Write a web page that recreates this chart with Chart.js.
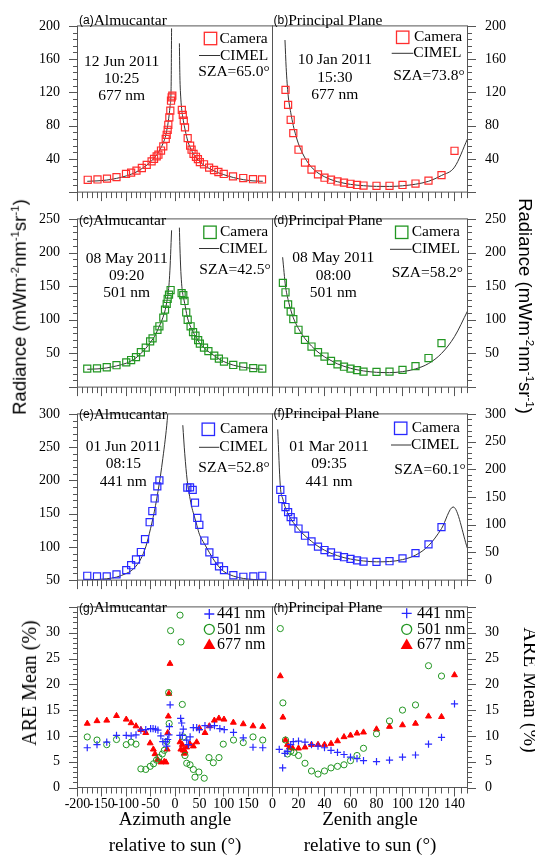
<!DOCTYPE html>
<html>
<head>
<meta charset="utf-8">
<script src="https://cdn.jsdelivr.net/npm/chart.js@4.4.1/dist/chart.umd.min.js"></script>
<style>
  body { margin: 0; background: #fff; }
  #fig { position: relative; width: 535px; height: 860px; overflow: hidden; font-family: 'Liberation Serif', serif; }
  #fig canvas { position: absolute; }
  .rot { position: absolute; z-index: 2; white-space: nowrap; line-height: 1; transform: translate(-50%, -50%) rotate(-90deg); }
  .rot.cw { transform: translate(-50%, -50%) rotate(90deg); }
  .rad { font-family: 'Liberation Sans', sans-serif; font-size: 18.5px; }
  .rad sup { font-size: 0.62em; vertical-align: 0.6em; line-height: 0; }
  .are { font-size: 20px; }
</style>
</head>
<body>
<div id="fig">
  <div class="rot rad" style="left:20px; top:307px">Radiance (mWm<sup>-2</sup>nm<sup>-1</sup>sr<sup>-1</sup>)</div>
  <div class="rot rad cw" style="left:525px; top:306px">Radiance (mWm<sup>-2</sup>nm<sup>-1</sup>sr<sup>-1</sup>)</div>
  <div class="rot are" style="left:29px; top:683px">ARE Mean (%)</div>
  <div class="rot are cw" style="left:531px; top:690px">ARE Mean (%)</div>
</div>
<script>
// ---- tick labels ----
const xTicksAlm = [-200, -150, -100, -50, 0, 50, 100, 150];
const xTicksPP = [0, 20, 40, 60, 80, 100, 120, 140];
const yTicksTop = [40, 80, 120, 160, 200];
const yTicksMid = [50, 100, 150, 200, 250];
const yTicksAlmLow = [50, 100, 150, 200, 250, 300];
const yTicksPPLow = [0, 50, 100, 150, 200, 250, 300];
const yTicksAre = [0, 5, 10, 15, 20, 25, 30];

// ---- (a) almucantar 677 nm ----
const aCamX = [-179, -159, -139.5, -120, -100.5, -90, -79, -68, -58, -48, -43, -37.6, -34, -28.7, -24, -19, -17, -15, -13.7, -11.6, -9.6, -8.2, -6.8, -5.5,
  14, 16, 18, 20.5, 26, 31, 34, 38, 43, 47, 51, 59.5, 70, 80, 89, 100, 119, 140, 160, 178.5];
const aCamY = [14.8, 15.2, 16.2, 18, 21.8, 23.5, 25.9, 29, 32.8, 37, 40, 43, 45, 50, 55, 64, 69, 75, 81, 90, 98, 110, 114, 116,
  99, 93, 86, 78, 65, 56, 51, 46, 42.5, 39.7, 36, 33.5, 29.4, 26.6, 24.2, 21.8, 19, 16.9, 15.5, 15.2];
const aCimLX = [-180, -160, -140, -120, -100, -90, -80, -70, -60, -50, -45, -40, -35, -30, -25, -20, -18, -16, -14, -12, -10, -8, -7];
const aCimLY = [13, 13.5, 14.5, 16.5, 19.5, 21.5, 24, 27.5, 31.5, 36.5, 39.5, 43, 47, 52, 58, 66, 71, 77, 84, 93, 104, 125, 197];
const aCimRX = [9, 10, 12, 14, 16, 18, 20, 25, 30, 35, 40, 45, 50, 60, 70, 80, 90, 100, 120, 140, 160, 180];
const aCimRY = [179, 140, 112, 98, 90, 83, 77, 64, 55, 49, 44, 40, 37, 32, 28.5, 25.5, 23, 21, 17.5, 15, 13.5, 13];

// ---- (b) principal plane 677 nm ----
const bCamX = [10, 12, 14, 16, 20, 25, 30, 35, 40, 45, 50, 55, 60, 65, 70, 80, 90, 100, 110, 120, 130, 140];
const bCamY = [123, 105, 87, 71, 51, 35.6, 27, 21.4, 17.3, 14.9, 12.8, 11.4, 10, 8.6, 7.9, 7.6, 7.6, 8.6, 10.3, 13.8, 20.4, 49.7];
const bCimX = [9.6, 10.5, 12, 14, 16, 18, 20, 25, 30, 35, 40, 45, 50, 60, 70, 80, 90, 100, 110, 120, 130, 140, 150];
const bCimY = [183, 150, 117, 96, 80, 68, 58, 41, 30, 23, 18.5, 15, 12.5, 9.3, 7.7, 6.9, 6.8, 7.6, 9.5, 13, 20, 30, 64];

// ---- (c) almucantar 501 nm ----
const cCamX = [-180, -160, -140, -120, -100, -90, -80, -70, -60, -51, -46, -36, -32, -24, -20.5, -17, -15, -12.3, -9,
  13.6, 17, 19.5, 23, 26, 32, 37, 42, 47.5, 51, 59.5, 68.5, 80.5, 90, 100.5, 119.5, 140, 160.5, 179];
const cCamY = [27.4, 27.8, 29.5, 32.5, 36.8, 40.2, 44.5, 51.8, 58.6, 68, 72.4, 85.2, 90.4, 103.2, 115.2, 123.8, 131, 137.4, 144.3,
  139.6, 136.6, 128, 110.9, 100.1, 90.4, 81.7, 76.6, 69.8, 64.6, 58.6, 53.5, 46.7, 42.3, 38, 32.9, 30.7, 28.2, 27.4];
const cCimLX = [-180, -160, -140, -120, -100, -90, -80, -70, -60, -50, -45, -40, -35, -30, -25, -20, -18, -16, -14, -12, -10, -8, -7];
const cCimLY = [26.5, 27, 28.5, 31.5, 35.5, 39, 43.5, 50, 57.5, 67, 72, 78, 86, 94, 103, 115, 122, 130, 140, 155, 180, 215, 233];
const cCimRX = [9, 10, 12, 14, 16, 18, 20, 25, 30, 35, 40, 45, 50, 60, 70, 80, 90, 100, 120, 140, 160, 180];
const cCimRY = [237, 210, 172, 150, 138, 131, 124, 105, 93, 85, 78, 72, 66, 58, 52, 47, 42, 38, 32.5, 29.5, 27.5, 26.5];

// ---- (d) principal plane 501 nm ----
const dCamX = [8, 10, 12, 14, 16, 20, 25, 30, 35, 40, 45, 50, 55, 60, 65, 70, 80, 90, 100, 110, 120, 130];
const dCamY = [155, 140.9, 122.9, 112.2, 101, 85.2, 70.2, 60.3, 51.8, 45.4, 38.9, 33.8, 30.3, 27.4, 25.2, 23, 22.6, 23, 25.6, 31.2, 43.2, 65.4];
const dCimX = [7.8, 10, 12, 14, 16, 20, 25, 30, 35, 40, 45, 50, 60, 70, 80, 90, 100, 110, 120, 130, 140, 150];
const dCimY = [193, 150, 130, 115, 103, 87, 72, 61, 52, 45, 39.5, 34.5, 28, 24, 22, 21.5, 23, 27, 35, 50, 75, 113];

// ---- (e) almucantar 441 nm ----
const eCamX = [-180, -160, -140, -120, -100, -90, -80, -70, -61.5, -52, -46.5, -41.8, -36.3, -32,
  25.3, 30.8, 36.3, 41, 45.8, 49.9, 60.2, 70.5, 80.8, 90.3, 100.5, 119.7, 140.2, 160.7, 179];
const eCamY = [56.5, 55.6, 55.6, 58.6, 65.1, 72.4, 81, 92.2, 111.6, 137.1, 153.9, 172.8, 191, 200,
  189.2, 189.5, 185.8, 166.4, 143.5, 133.2, 109.5, 91.8, 78.9, 70.7, 65.1, 57.3, 55, 55.6, 56.5];
const eCimLX = [-180, -160, -140, -120, -100, -90, -80, -70, -60, -50, -45, -40, -35, -30, -25, -20, -16, -13];
const eCimLY = [50.5, 51, 52, 54.5, 60, 64, 71, 82, 100, 128, 144, 162, 183, 206, 233, 262, 290, 320];
const eCimRX = [16, 20, 25, 30, 35, 40, 45, 50, 60, 70, 80, 90, 100, 120, 140, 160, 180];
const eCimRY = [283, 240, 200, 176, 158, 145, 132, 119, 105, 92, 80, 70, 63, 56, 52.5, 51, 50.5];

// ---- (f) principal plane 441 nm ----
const fCamX = [6, 7.5, 10, 12, 14, 16, 20, 25, 30, 35, 40, 45, 50, 55, 60, 65, 70, 80, 90, 100, 110, 120, 130];
const fCamY = [162.9, 146.3, 131.9, 122.6, 113.7, 106, 93.1, 80.1, 69.8, 60.5, 54.3, 50.1, 43.9, 41.3, 38.2, 35.7, 33.5, 33, 34.1, 39.3, 48.6, 64.6, 95.6];
const fCimX = [4, 6, 8, 10, 12, 14, 16, 20, 25, 30, 35, 40, 45, 50, 55, 60, 70, 80, 90, 100, 110, 120, 130, 139, 150];
const fCimY = [272, 170, 146, 130, 120, 111, 104, 92, 80, 70, 61, 54, 48.5, 44, 40.5, 38, 34.5, 33, 33.5, 37, 45, 62, 93, 132, 57];

// ---- (g) ARE almucantar ----
const gX441 = [-180, -160, -140, -120, -100, -90, -80, -70, -60, -50, -45, -40, -35, -29, -25, -19, -17, -15, -12.5, -11.5, -10,
  10, 11.6, 13.7, 15, 17, 24, 27.4, 31, 37.6, 44.5, 50, 61.5, 72, 81, 92, 101, 120, 140, 160, 180];
const gY441 = [7.7, 8.3, 8.8, 10.1, 10.1, 10.0, 10.2, 11.1, 11.2, 11.4, 11.4, 11.3, 11.1, 10, 8.9, 8.9, 8, 9.3, 10.2, 11.8, 16,
  10.1, 13.4, 12.5, 10.1, 11.3, 9.2, 8.3, 9.8, 11.6, 11.6, 11.2, 12, 11.7, 12, 11.4, 11.2, 10.7, 9.6, 7.8, 7.7];
const gX501 = [-180, -160, -140, -120, -100, -90, -80, -70, -60, -51, -44, -38, -33, -26, -22, -17, -13, -12, -9,
  10.3, 12.3, 15, 17, 20.5, 24, 30.8, 37.6, 41, 49, 60, 69.7, 78.6, 90.3, 99, 120, 140, 160, 180];
const gY501 = [9.8, 9.2, 8.3, 9.3, 8.3, 8.8, 8.4, 3.6, 3.5, 4.1, 4.6, 5.3, 5.8, 6.5, 7.2, 8.9, 18.4, 12.4, 30.4,
  33.4, 28.2, 16.1, 9.8, 6.2, 4.7, 4.4, 3.5, 2.0, 3, 1.8, 5.8, 4.8, 5.8, 8.4, 9.2, 8.7, 9.8, 9.2];
const gX677 = [-180, -160, -140, -120, -100, -90, -80, -70, -60, -51, -44.4, -41, -35.6, -28.7, -22, -18.5, -16, -15, -13.7, -12.5, -10.3,
  10.3, 12, 15, 17, 19, 20.5, 24, 30.8, 37.6, 44.5, 50, 61.5, 70.4, 80.7, 90, 100.5, 119.7, 140, 160, 180];
const gY677 = [12.4, 12.9, 13, 13.9, 13.2, 12.5, 11.9, 11.2, 10.6, 8.6, 7.4, 6.5, 5.4, 4.9, 5.0, 4.9, 7.4, 10.6, 13.8, 18.2, 24,
  8.8, 7.4, 8.3, 7.2, 6.6, 7, 7.8, 8.4, 8, 8.8, 11.5, 10.6, 11.9, 13, 13.4, 13.2, 12.6, 12.3, 11.9, 11.8];

// ---- (h) ARE principal plane ----
const hX441 = [5.2, 7.8, 9.6, 11.4, 14, 16, 20, 25, 30, 35, 40, 45, 50, 55, 60, 65, 70, 80, 90, 100, 110, 120, 130, 140];
const hY441 = [7.4, 3.8, 6.6, 7, 8.3, 8.9, 9, 8.8, 8.3, 8, 7.7, 7.2, 6.8, 6.4, 5.9, 5.6, 5.2, 5.0, 5.3, 5.9, 6.3, 8.4, 9.7, 16.2];
const hX501 = [6, 8, 10, 11.5, 14, 16.5, 20, 25, 30, 35, 40, 45, 50, 55, 60, 65, 70, 80, 90, 100, 110, 120, 130];
const hY501 = [30.8, 16.4, 9.2, 6.5, 7, 6.8, 6.2, 4.7, 3.2, 2.6, 3.2, 3.8, 4.1, 4.4, 5.2, 6.2, 7.6, 10.4, 12.9, 15, 16, 23.6, 21.6];
const hX677 = [6, 8, 10, 11.5, 13, 15.5, 20, 25, 30, 35, 40, 45, 50, 55, 60, 65, 70, 80, 90, 100, 110, 120, 130, 140];
const hY677 = [21.6, 13.6, 9.2, 8.3, 7.8, 7.6, 7.6, 7.8, 8.3, 8.3, 8.3, 8.5, 9, 9.8, 10.1, 10.5, 10.7, 11.3, 11.8, 12.1, 12.4, 13.8, 13.7, 21.8];

// ---- styling / layout ----
Chart.defaults.font.family = "'Liberation Serif', 'Times New Roman', serif";
Chart.defaults.color = '#000';

const RED = 'rgb(255,45,45)', GREEN = 'rgb(34,150,34)', BLUE = 'rgb(40,40,255)', TRI = 'rgb(255,0,0)', LINE = '#333';
const FRAME = '#555';
const XL = 77.5, XM = 272.5, XR = 467.5;
const ROWS = [[12.5, 205.5], [205.5, 400.5], [400.5, 593.5], [593.5, 787.5]];
const TXT = "15.5px 'Liberation Serif'";

const pts = (xs, ys) => xs.map((v, i) => ({x: v, y: ys[i]}));

function camSet(xs, ys, color) {
  return {data: pts(xs, ys), pointStyle: 'rect', pointRadius: 5, pointBorderColor: color,
    pointBackgroundColor: 'rgba(0,0,0,0)', pointBorderWidth: 1.2, showLine: false};
}
function cimSet(xs, ys) {
  return {data: pts(xs, ys), showLine: true, pointRadius: 0, borderColor: LINE, borderWidth: 1,
    cubicInterpolationMode: 'monotone', clip: 0};
}
function are441(xs, ys) {
  return {data: pts(xs, ys), pointStyle: 'cross', pointRadius: 3.6, pointBorderColor: BLUE, pointBorderWidth: 1.2};
}
function are501(xs, ys) {
  return {data: pts(xs, ys), pointStyle: 'circle', pointRadius: 3.1, pointBorderColor: GREEN,
    pointBackgroundColor: 'rgba(0,0,0,0)', pointBorderWidth: 1};
}
function are677(xs, ys) {
  return {data: pts(xs, ys), pointStyle: 'triangle', pointRadius: 3.4, pointBorderColor: TRI,
    pointBackgroundColor: TRI, pointBorderWidth: 1};
}

function marker(ctx, kind, x, y, r, color) {
  ctx.save();
  ctx.strokeStyle = color; ctx.fillStyle = color; ctx.lineWidth = 1.3;
  ctx.beginPath();
  if (kind === 'cross') {
    ctx.moveTo(x - r, y); ctx.lineTo(x + r, y); ctx.moveTo(x, y - r); ctx.lineTo(x, y + r); ctx.stroke();
  } else if (kind === 'circle') {
    ctx.arc(x, y, r, 0, Math.PI * 2); ctx.stroke();
  } else if (kind === 'triangle') {
    ctx.moveTo(x, y - r); ctx.lineTo(x + 0.866 * r, y + 0.5 * r); ctx.lineTo(x - 0.866 * r, y + 0.5 * r);
    ctx.closePath(); ctx.fill();
  } else {
    ctx.strokeRect(x - r, y - r, 2 * r, 2 * r);
  }
  ctx.restore();
}

function tickRun(min, max, minor, major, fn) {
  const n = Math.round((max - min) / minor);
  for (let i = 0; i <= n; i++) {
    const v = min + i * minor;
    const q = v / major;
    fn(v, Math.abs(q - Math.round(q)) < 1e-6);
  }
}

// frame, tick marks and in-panel texts (text positions are page coordinates)
function decor(p) {
  return {
    id: 'decor',
    afterDatasetsDraw(chart) {
      const {ctx, chartArea: a, scales: {x, y}} = chart;
      ctx.save();
      ctx.strokeStyle = FRAME; ctx.lineWidth = 1;
      ctx.strokeRect(a.left, a.top, a.right - a.left, a.bottom - a.top);

      const ex = p.col === 0 ? a.left : a.right, dir = p.col === 0 ? -1 : 1;
      ctx.beginPath();
      tickRun(p.yMin, p.yMax, p.yMinor, p.yMajor, (v, big) => {
        const py = Math.round(y.getPixelForValue(v)) + 0.5;
        ctx.moveTo(ex, py); ctx.lineTo(ex + dir * (big ? 8.5 : 4.5), py);
      });
      tickRun(p.xMin, p.xMax, p.xMinor, p.xMajor, (v, big) => {
        const px = Math.round(x.getPixelForValue(v) - 0.5) + 0.5;
        ctx.moveTo(px, a.bottom); ctx.lineTo(px, a.bottom + (big ? 9 : 6));
      });
      ctx.stroke();

      ctx.translate(-p.cx, -p.cy);
      // panel title
      ctx.fillStyle = '#000'; ctx.textBaseline = 'middle'; ctx.textAlign = 'left';
      ctx.font = "12px 'Liberation Sans'";
      ctx.fillText('(' + p.tag + ')', p.t[0], p.t[1]);
      const w = ctx.measureText('(' + p.tag + ')').width;
      ctx.font = TXT;
      ctx.fillText(p.name, p.t[0] + w, p.t[1]);

      if (p.kind === 'rad') {
        const L = p.leg;
        ctx.textAlign = 'center';
        p.dateLines.forEach((s, i) => ctx.fillText(s, L.dx, L.dy[i]));
        ctx.textAlign = 'left';
        marker(ctx, 'rect', L.sq[0], L.sq[1], 6.2, p.color);
        ctx.fillText('Camera', L.camX, L.sq[1]);
        ctx.strokeStyle = LINE; ctx.lineWidth = 1;
        ctx.beginPath(); ctx.moveTo(L.ln[0], L.cimY); ctx.lineTo(L.ln[1], L.cimY); ctx.stroke();
        ctx.fillText('CIMEL', L.ln[1], L.cimY);
        ctx.fillText(p.sza, L.sza[0], L.sza[1]);
      } else {
        const L = p.leg;
        ctx.font = "16px 'Liberation Serif'";
        marker(ctx, 'cross', L.mx, L.my[0], 5, BLUE);
        marker(ctx, 'circle', L.mx, L.my[1], 5, GREEN);
        marker(ctx, 'triangle', L.mx, L.my[2] + 1, 7, TRI);
        ['441 nm', '501 nm', '677 nm'].forEach((s, i) => ctx.fillText(s, L.tx, L.my[i]));
      }
      ctx.restore();
    }
  };
}

function panel(p) {
  const [top, bottom] = ROWS[p.row];
  const last = p.row === 3, isLeft = p.col === 0;
  const cTop = Math.floor(top - 12);
  const cBot = last ? 860 : Math.ceil(bottom + 12);
  const cLeft = isLeft ? 0 : 255, cW = isLeft ? 290 : 280;
  p.cx = cLeft; p.cy = cTop;
  const cv = document.createElement('canvas');
  cv.width = cW; cv.height = cBot - cTop;
  cv.style.left = cLeft + 'px'; cv.style.top = cTop + 'px';
  document.getElementById('fig').appendChild(cv);

  const xScale = {
    type: 'linear', min: p.xMin, max: p.xMax, display: last,
    afterBuildTicks: s => { s.ticks = p.xTicks.map(v => ({value: v})); },
    grid: {display: false, drawTicks: false}, border: {display: false},
    ticks: {padding: 8, maxRotation: 0, autoSkip: false, font: {size: 14}},
    title: {display: !!p.xTitle, text: p.xTitle, font: {size: 19, lineHeight: 1.42}, padding: {top: 0, bottom: 0}}
  };
  if (last) xScale.afterFit = s => { s.height = 860 - bottom; };

  new Chart(cv, {
    type: 'scatter',
    data: {datasets: p.datasets},
    options: {
      responsive: false, animation: false, events: [],
      layout: {padding: {
        left: isLeft ? 0 : XM - cLeft,
        right: isLeft ? cLeft + cW - XM : 0,
        top: top - cTop,
        bottom: last ? 0 : cBot - bottom
      }},
      plugins: {legend: {display: false}, tooltip: {enabled: false}},
      scales: {
        x: xScale,
        y: {
          type: 'linear', position: isLeft ? 'left' : 'right', min: p.yMin, max: p.yMax,
          afterBuildTicks: s => { s.ticks = p.yTicks.map(v => ({value: v})); },
          afterFit: s => { s.width = isLeft ? XL : 535 - XR; },
          grid: {display: false, drawTicks: false}, border: {display: false},
          ticks: {padding: 17.5, font: {size: 14}}
        }
      }
    },
    plugins: [decor(p)]
  });
}

const ALM = {xMin: -200, xMax: 200, xTicks: xTicksAlm, xMajor: 50, xMinor: 10, name: 'Almucantar'};
const PP = {xMin: 0, xMax: 150, xTicks: xTicksPP, xMajor: 20, xMinor: 5, name: 'Principal Plane'};

panel(Object.assign({}, ALM, {
  tag: 'a', row: 0, col: 0, kind: 'rad', color: RED,
  yMin: 0, yMax: 200, yTicks: yTicksTop, yMajor: 40, yMinor: 8,
  datasets: [camSet(aCamX, aCamY, RED), cimSet(aCimLX, aCimLY), cimSet(aCimRX, aCimRY)],
  t: [79, 20.7], dateLines: ['12 Jun 2011', '10:25', '677 nm'], sza: 'SZA=65.0°',
  leg: {dx: 121.7, dy: [61.7, 79, 96.3], sq: [210.5, 38.5], camX: 219.5, cimY: 55.5, ln: [199, 220], sza: [198.3, 72]}
}));
panel(Object.assign({}, PP, {
  tag: 'b', row: 0, col: 1, kind: 'rad', color: RED,
  yMin: 0, yMax: 200, yTicks: yTicksTop, yMajor: 40, yMinor: 8,
  datasets: [camSet(bCamX, bCamY, RED), cimSet(bCimX, bCimY)],
  t: [273.5, 21], dateLines: ['10 Jan 2011', '15:30', '677 nm'], sza: 'SZA=73.8°',
  leg: {dx: 334.8, dy: [60, 77.7, 95], sq: [402.7, 37.3], camX: 414, cimY: 53.3, ln: [391.7, 413.3], sza: [393.3, 75.7]}
}));
panel(Object.assign({}, ALM, {
  tag: 'c', row: 1, col: 0, kind: 'rad', color: GREEN,
  yMin: 0, yMax: 250, yTicks: yTicksMid, yMajor: 50, yMinor: 10,
  datasets: [camSet(cCamX, cCamY, GREEN), cimSet(cCimLX, cCimLY), cimSet(cCimRX, cCimRY)],
  t: [79, 220.7], dateLines: ['08 May 2011', '09:20', '501 nm'], sza: 'SZA=42.5°',
  leg: {dx: 126.7, dy: [259.3, 276, 292.7], sq: [210, 232.3], camX: 220, cimY: 248.5, ln: [199, 219.3], sza: [199.3, 270]}
}));
panel(Object.assign({}, PP, {
  tag: 'd', row: 1, col: 1, kind: 'rad', color: GREEN,
  yMin: 0, yMax: 250, yTicks: yTicksMid, yMajor: 50, yMinor: 10,
  datasets: [camSet(dCamX, dCamY, GREEN), cimSet(dCimX, dCimY)],
  t: [273.5, 220.7], dateLines: ['08 May 2011', '08:00', '501 nm'], sza: 'SZA=58.2°',
  leg: {dx: 333.3, dy: [258.3, 275.7, 292.7], sq: [401.7, 232.3], camX: 411.7, cimY: 249.3, ln: [390, 411.7], sza: [391.7, 272.7]}
}));
panel(Object.assign({}, ALM, {
  tag: 'e', row: 2, col: 0, kind: 'rad', color: BLUE,
  yMin: 50, yMax: 300, yTicks: yTicksAlmLow, yMajor: 50, yMinor: 10,
  datasets: [camSet(eCamX, eCamY, BLUE), cimSet(eCimLX, eCimLY), cimSet(eCimRX, eCimRY)],
  t: [79, 415], dateLines: ['01 Jun 2011', '08:15', '441 nm'], sza: 'SZA=52.8°',
  leg: {dx: 123.3, dy: [447.3, 464.3, 482.3], sq: [208.3, 429.3], camX: 220, cimY: 447.3, ln: [199, 219.3], sza: [198.3, 467.7]}
}));
panel(Object.assign({}, PP, {
  tag: 'f', row: 2, col: 1, kind: 'rad', color: BLUE,
  yMin: 0, yMax: 300, yTicks: yTicksPPLow, yMajor: 50, yMinor: 10,
  datasets: [camSet(fCamX, fCamY, BLUE), cimSet(fCimX, fCimY)],
  t: [273.5, 414], dateLines: ['01 Mar 2011', '09:35', '441 nm'], sza: 'SZA=60.1°',
  leg: {dx: 329, dy: [446.7, 464.3, 481.7], sq: [400.7, 428.3], camX: 411.7, cimY: 445, ln: [391, 411], sza: [394.3, 470]}
}));
panel(Object.assign({}, ALM, {
  tag: 'g', row: 3, col: 0, kind: 'are',
  yMin: 0, yMax: 35, yTicks: yTicksAre, yMajor: 5, yMinor: 1,
  xTitle: ['Azimuth angle', 'relative to sun (°)'],
  datasets: [are441(gX441, gY441), are501(gX501, gY501), are677(gX677, gY677)],
  t: [79, 608.3],
  leg: {mx: 209.3, my: [614, 629.3, 644.5], tx: 217}
}));
panel(Object.assign({}, PP, {
  tag: 'h', row: 3, col: 1, kind: 'are',
  yMin: 0, yMax: 35, yTicks: yTicksAre, yMajor: 5, yMinor: 1,
  xTitle: ['Zenith angle', 'relative to sun (°)'],
  datasets: [are441(hX441, hY441), are501(hX501, hY501), are677(hX677, hY677)],
  t: [273.5, 608.3],
  leg: {mx: 406.7, my: [613.3, 629.3, 644.5], tx: 417}
}));
</script>
</body>
</html>
